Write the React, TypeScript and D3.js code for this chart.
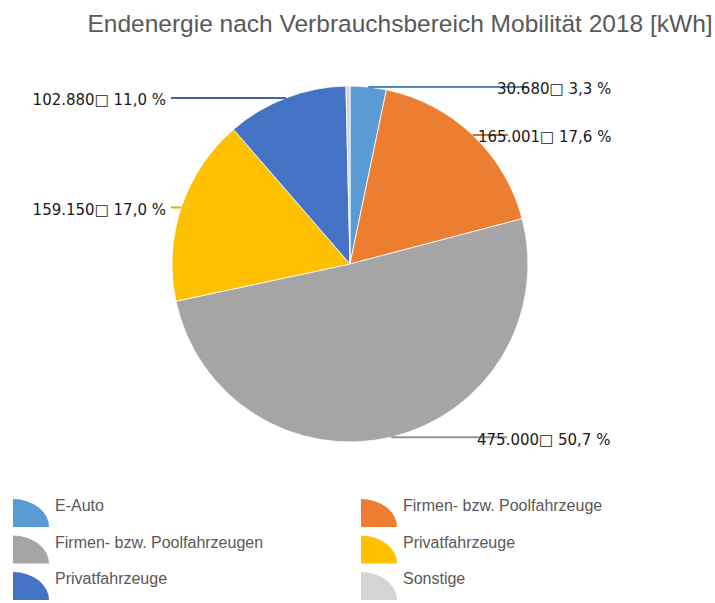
import React, { useRef, useEffect } from "react";
import * as d3 from "d3";

const W = 715;
const H = 603;

// Data
const categories = [
  "E-Auto",
  "Firmen- bzw. Poolfahrzeuge",
  "Firmen- bzw. Poolfahrzeugen",
  "Privatfahrzeuge",
  "Privatfahrzeuge",
  "Sonstige",
];
const values = [30680, 165001, 475000, 159150, 102880, 3400];
const colors = ["#5B9BD5", "#ED7D31", "#A5A5A5", "#FFC000", "#4472C4", "#D4D4D4"];
const showLabel = [true, true, true, true, true, false];

// Layout for data labels (x of label text)
const LABEL_X = [497, 478, 477, 166, 166, 0];

const TITLE = "Endenergie nach Verbrauchsbereich Mobilität 2018 [kWh]";

const de = d3.formatLocale({
  decimal: ",",
  thousands: ".",
  grouping: [3],
  currency: ["", " €"],
});
const fmtNum = de.format(",d");
const fmtPct = de.format(".1f");

export default function App() {
  const svgRef = useRef<SVGSVGElement>(null);

  useEffect(() => {
    document.body.style.margin = "0";
    const svg = d3.select(svgRef.current);
    svg.selectAll("*").remove();
    svg.attr("width", W).attr("height", H);

    const cx = 350;
    const cy = 264;
    const r = 178;
    const total = d3.sum(values);

    const rows = categories.map((c, i) => ({
      name: c,
      value: values[i],
      color: colors[i],
      idx: i,
    }));

    const pie = d3
      .pie<any>()
      .sort(null)
      .value((d) => d.value)
      .startAngle(0)
      .endAngle(2 * Math.PI);
    const arcs = pie(rows);
    const arc = d3.arc<any>().innerRadius(0).outerRadius(r);

    // Title
    svg
      .append("text")
      .attr("x", 400)
      .attr("y", 32)
      .attr("text-anchor", "middle")
      .attr("font-family", "'Liberation Sans', Arial, sans-serif")
      .attr("font-size", 24.5)
      .attr("fill", "#595959")
      .text(TITLE);

    const g = svg.append("g").attr("transform", `translate(${cx},${cy})`);

    g.selectAll("path.slice")
      .data(arcs)
      .join("path")
      .attr("class", "slice")
      .attr("d", arc)
      .attr("fill", (d) => d.data.color)
      .attr("stroke", "#fff")
      .attr("stroke-width", 0.8);

    // Leader lines + labels
    arcs.forEach((a, i) => {
      if (!showLabel[i]) return;
      const mid = (a.startAngle + a.endAngle) / 2;
      const px = cx + r * Math.sin(mid);
      const py = cy - r * Math.cos(mid);
      const right = Math.sin(mid) > 0;
      const lx = LABEL_X[i];
      const x2 = right ? Math.max(lx + 10, Math.min(px + 160, lx + 30)) : lx + 5;
      svg
        .append("line")
        .attr("x1", px)
        .attr("y1", py)
        .attr("x2", x2)
        .attr("y2", py)
        .attr("stroke", d3.color(a.data.color)!.darker(0.3).toString())
        .attr("stroke-width", 2);
      const label = `${fmtNum(a.data.value)}\u25A1 ${fmtPct((a.data.value / total) * 100)} %`;
      svg
        .append("text")
        .attr("x", lx)
        .attr("y", py + 7.5)
        .attr("text-anchor", right ? "start" : "end")
        .attr("font-family", "'DejaVu Sans', Verdana, sans-serif")
        .attr("font-size", 15)
        .attr("fill", "#1a1a1a")
        .text(label);
    });

    // Legend
    const legend = svg
      .selectAll("g.legend")
      .data(rows)
      .join("g")
      .attr("class", "legend")
      .attr(
        "transform",
        (_, i) => `translate(${i % 2 === 0 ? 13 : 361}, ${499 + Math.floor(i / 2) * 36.5})`,
      );

    legend
      .append("path")
      .attr("d", "M0,28 L0,0 A36,28 0 0,1 36,28 Z")
      .attr("fill", (d) => d.color);

    legend
      .append("text")
      .attr("x", 42)
      .attr("y", 12)
      .attr("font-family", "'Liberation Sans', Arial, sans-serif")
      .attr("font-size", 16)
      .attr("fill", "#595959")
      .text((d) => d.name);
  }, []);

  return <svg ref={svgRef} style={{ display: "block" }} />;
}
